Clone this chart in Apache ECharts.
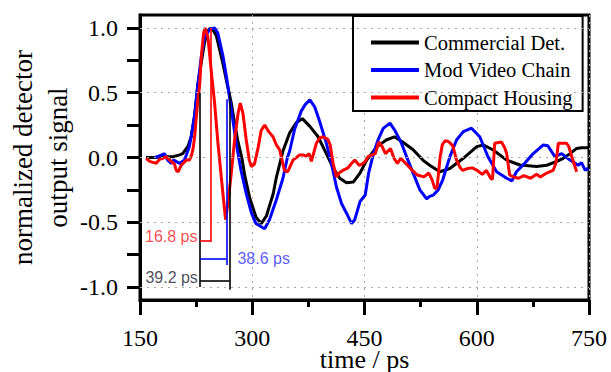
<!DOCTYPE html>
<html><head><meta charset="utf-8">
<script src="https://cdn.jsdelivr.net/npm/echarts@6/dist/echarts.min.js"></script>
<style>html,body{margin:0;padding:0;background:#fff}#c{width:611px;height:372px}</style>
</head><body><div id="c"></div>
<script>
// ---- data ----
const seriesNames = ['Commercial Det.', 'Mod Video Chain', 'Compact Housing'];
const seriesColors = ['#000000', '#0000ff', '#ff0000'];

const yLabelValues = [-1, -0.5, 0, 0.5, 1];
const yTickValues = [-1, -0.75, -0.5, -0.25, 0, 0.25, 0.5, 0.75, 1];
const yGridValues = [-1, -0.5, 0, 0.5, 1];
const xRange = [150, 750];

const commercialDet = [[158,0],[170,0],[185,0.005],[194,0.006],[203,0.02],[207,0.03],[214,0.085],[218.5,0.16],[223,0.33],[227.3,0.56],[231,0.7],[236,0.88],[240,0.97],[243,0.995],[247,0.99],[252,0.94],[261,0.72],[266,0.58],[272,0.42],[276,0.28],[281,0.12],[286,0.0],[290,-0.14],[296.5,-0.31],[305,-0.46],[312,-0.51],[319,-0.45],[328,-0.28],[332,-0.16],[341,0.05],[350,0.19],[359,0.27],[367,0.30],[377,0.24],[388,0.16],[399,0.03],[408,-0.08],[417,-0.16],[426,-0.195],[435,-0.19],[444,-0.12],[453,-0.02],[466,0.08],[479,0.135],[490,0.16],[501,0.12],[515,0.06],[528,-0.02],[537,-0.06],[550.7,-0.11],[564,-0.085],[582,-0.006],[600,0.084],[608.6,0.097],[622,0.058],[640,-0.02],[657.7,-0.058],[680,-0.07],[693.5,-0.06],[707,-0.03],[715.6,-0.006],[724.6,0.03],[733.5,0.07],[740,0.075],[750,0.075]];

const modVideoChain = [[170,0],[175,0.01],[182.8,0.03],[187,-0.02],[191.7,-0.045],[195,-0.02],[198,-0.03],[203,-0.045],[209.5,-0.02],[216,0.085],[223,0.32],[227,0.55],[232,0.78],[236,0.92],[243,0.99],[249.7,1.0],[254,0.96],[261,0.78],[265,0.64],[268,0.53],[272,0.37],[278.6,0.11],[285,-0.1],[292,-0.28],[299,-0.43],[305,-0.51],[312,-0.535],[316.6,-0.55],[323,-0.48],[332,-0.33],[341,-0.16],[347,0.0],[350,0.05],[356.7,0.22],[365.6,0.36],[371,0.41],[377,0.445],[383.5,0.39],[390,0.28],[399,0.11],[405.8,-0.045],[412.6,-0.23],[419.3,-0.355],[426,-0.43],[432.7,-0.51],[437,-0.48],[444,-0.34],[451,-0.29],[455.5,-0.12],[462,0.03],[468,0.135],[475,0.225],[484,0.265],[490.5,0.21],[499.4,0.11],[508,-0.02],[517,-0.15],[524,-0.25],[533,-0.32],[537,-0.30],[542,-0.29],[548.5,-0.25],[554.7,-0.17],[564,0.005],[573,0.135],[582,0.20],[593,0.226],[604,0.16],[615,0.006],[626.5,-0.11],[640,-0.16],[647,-0.18],[653,-0.11],[664,-0.045],[675.5,0.03],[689,0.097],[695,0.09],[704.5,0.006],[713.5,0.03],[724.6,-0.02],[735.7,-0.06],[740,-0.04],[745,-0.1],[749,-0.08]];

const compactHousing = [[158.3,-0.006],[163,-0.03],[171.6,-0.045],[176,-0.015],[180.5,-0.006],[185,0.006],[191.7,-0.03],[196,-0.05],[198.4,-0.1],[201,-0.11],[205,-0.06],[212,-0.02],[216,-0.02],[219,0.02],[221,0.07],[223,0.16],[227.4,0.45],[229.6,0.55],[232,0.78],[235,0.96],[237,1.0],[240.7,0.93],[243,0.8],[246,0.62],[249.7,0.42],[254,0.12],[258.6,-0.15],[261.7,-0.33],[264.4,-0.48],[267.5,-0.355],[272,-0.12],[276.4,0.135],[281,0.34],[284,0.42],[287.6,0.34],[292,0.135],[296,-0.02],[298.8,-0.07],[303,-0.05],[308,0.08],[312,0.21],[316.6,0.25],[322,0.20],[327.7,0.16],[332,0.1],[336.6,0.06],[343,-0.1],[347.5,-0.11],[354.4,-0.02],[359,0.0],[363.4,0.02],[368,0.02],[372,0.01],[376,0.03],[379,-0.03],[385.7,0.11],[390,0.15],[394.6,0.16],[401,0.14],[404,0.1],[408,-0.045],[412.5,-0.15],[416,-0.12],[421,-0.1],[428,-0.08],[432,-0.05],[437,-0.02],[443,-0.06],[447,-0.05],[451,-0.03],[454.7,0.006],[460,0.02],[464.5,0.03],[469,0.12],[473.5,0.085],[478,0.03],[484.8,0.07],[489.4,-0.006],[494,-0.045],[498.4,-0.006],[505,-0.045],[514,-0.10],[520.6,-0.135],[529.5,-0.15],[536,-0.12],[540.5,-0.175],[544,-0.24],[547,-0.23],[551,0.0],[554,0.1],[558,0.13],[563,0.12],[568,0.09],[573,-0.02],[578,-0.08],[581.5,-0.1],[587.3,-0.085],[594,-0.08],[600.7,-0.10],[607.4,-0.13],[613,-0.1],[618.6,-0.16],[621,-0.17],[624,0.11],[633,0.12],[637,0.08],[640,0.03],[644,-0.135],[649,-0.15],[656,-0.16],[663,-0.14],[672,-0.16],[680,-0.13],[685,-0.15],[693.5,-0.12],[702,-0.1],[706,-0.04],[709,0.11],[715.6,0.11],[720,0.11],[723,0.085],[727,0.006],[733.5,-0.11]];

// annotation segments (data units) and labels
const annotBlack = [[[230.5,0.5],[230.5,-1.0]], [[269.7,0.5],[269.7,-1.02]], [[230.5,-0.95],[269.7,-0.95]]];
const annotBlue = [[[265.3,0.45],[265.3,-0.83]], [[230.5,-0.78],[265.3,-0.78]]];
const annotRed = [[[245.2,1.0],[245.2,-0.65]], [[230.5,-0.645],[245.2,-0.645]]];
const annotLabels = [
  {pos:[227.5,-0.61], text:'16.8 ps', color:'#ff2020', side:'left'},
  {pos:[279.5,-0.78], text:'38.6 ps', color:'#3030ff', side:'right'},
  {pos:[228,-0.93], text:'39.2 ps', color:'#1a1a2e', side:'left'}
];

// ---- chart ----
const serif = 'Liberation Serif, "Times New Roman", serif';
const sans = 'Liberation Sans, Arial, sans-serif';
const chart = echarts.init(document.getElementById('c'), null, {renderer:'svg'});

function segs(list, color, width, type, z){
  return {
    type:'line', data:[], silent:true, z:z,
    markLine:{silent:true, symbol:'none', animation:false, label:{show:false},
      lineStyle:{color:color, width:width, type:type},
      data:list.map(s => [{coord:s[0]}, {coord:s[1]}])}
  };
}

const gridSegs = yGridValues.map(v => [[xRange[0], v], [xRange[1], v]]);
const curveData = [commercialDet, modVideoChain, compactHousing];
const series = [segs(gridSegs, '#aaa', 1, [2,5], 1)];
curveData.forEach((d,i) => series.push({
  name:seriesNames[i], type:'line', data:d, showSymbol:false, symbol:'none',
  smooth:false, lineStyle:{color:seriesColors[i], width:3}, itemStyle:{color:seriesColors[i]}, z:2+i*0.1
}));
series.push(segs(annotBlack,'#000',1.6,'solid',4), segs(annotBlue,'#0000ff',1.6,'solid',4), segs(annotRed,'#ff0000',1.6,'solid',4));
series.push({
  type:'scatter', silent:true, z:5, symbolSize:1, itemStyle:{color:'rgba(0,0,0,0)'},
  data:annotLabels.map(a => ({value:a.pos, label:{show:true, formatter:a.text, position:a.side, distance:0,
    color:a.color, fontFamily:sans, fontSize:16}}))
});

chart.setOption({
  animation:false,
  backgroundColor:'#fff',
  grid:{left:140, right:22, top:15, bottom:72, show:true, borderColor:'#000', borderWidth:3,
    backgroundColor:'transparent', containLabel:false, outerBoundsMode:'none'},
  legend:{data:seriesNames, orient:'vertical', left:353, top:16, padding:[16,10,3,18],
    itemWidth:48, itemHeight:4, itemGap:6.5, icon:'rect', borderColor:'#000', borderWidth:2,
    backgroundColor:'#fff', selectedMode:false,
    textStyle:{fontFamily:serif, fontSize:20.5, color:'#000', lineHeight:21}},
  xAxis:{type:'value', min:xRange[0], max:xRange[1], interval:150,
    axisLine:{show:true, onZero:false, lineStyle:{color:'#000', width:3}},
    axisTick:{show:true, inside:false, length:15, lineStyle:{color:'#000', width:3}},
    minorTick:{show:true, splitNumber:2, length:7, lineStyle:{color:'#000', width:3}},
    axisLabel:{fontFamily:serif, fontSize:24, color:'#000', margin:28, lineHeight:20},
    splitLine:{show:true, lineStyle:{color:'#aaa', width:1, type:[2,5]}},
    name:'time / ps', nameLocation:'middle', nameGap:48, nameMoveOverlap:false,
    nameTextStyle:{fontFamily:serif, fontSize:26, color:'#000', lineHeight:22}},
  yAxis:{type:'value', min:-1.1, max:1.1,
    axisLine:{show:true, onZero:false, lineStyle:{color:'#000', width:3}},
    axisTick:{show:true, inside:false, length:13, customValues:yTickValues, lineStyle:{color:'#000', width:3}},
    axisLabel:{customValues:yLabelValues, formatter:v => Number(v).toFixed(1), fontFamily:serif, fontSize:24, color:'#000', margin:22},
    splitLine:{show:false},
    name:'normalized detector\noutput signal', nameLocation:'middle', nameGap:65, nameMoveOverlap:false,
    nameTextStyle:{fontFamily:serif, fontSize:27, color:'#000', lineHeight:35}},
  series:series
});
</script></body></html>
